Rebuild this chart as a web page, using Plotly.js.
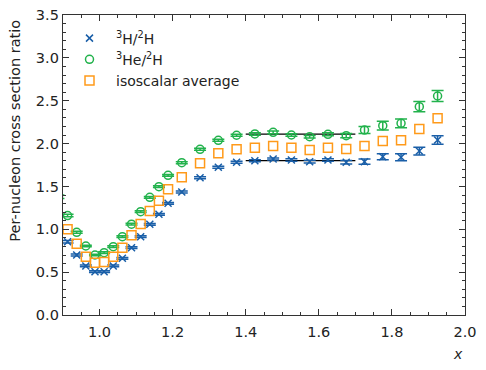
<!DOCTYPE html>
<html>
<head>
<meta charset="utf-8">
<script src="https://cdn.plot.ly/plotly-3.0.1.min.js"></script>
<style>
  body { margin: 0; background: #fff; }
  #plot { width: 486px; height: 370px; }
</style>
</head>
<body>
<div id="plot"></div>
<script>
// bin centres in x
const xBins = [0.9125, 0.9375, 0.9625, 0.9875, 1.0125, 1.0375, 1.0625, 1.0875, 1.1125, 1.1375,
  1.1625, 1.1875, 1.225, 1.275, 1.325, 1.375, 1.425, 1.475, 1.525, 1.575,
  1.625, 1.675, 1.725, 1.775, 1.825, 1.875, 1.925];

// 3H/2H
const h3Ratio = [0.855, 0.70, 0.572, 0.505, 0.505, 0.572, 0.661, 0.785, 0.914, 1.058,
  1.175, 1.303, 1.435, 1.602, 1.723, 1.782, 1.80, 1.82, 1.808, 1.789,
  1.808, 1.782, 1.789, 1.847, 1.84, 1.913, 2.042];
const h3Err = [0.015, 0.012, 0.01, 0.01, 0.01, 0.01, 0.01, 0.01, 0.01, 0.01,
  0.01, 0.01, 0.012, 0.012, 0.012, 0.012, 0.012, 0.012, 0.015, 0.015,
  0.015, 0.02, 0.03, 0.035, 0.04, 0.045, 0.05];

// 3He/2H (first point sits just left of the frame)
const he3X = [0.8875].concat(xBins);
const he3Ratio = [1.38, 1.16, 0.965, 0.805, 0.70, 0.727, 0.797, 0.914, 1.06, 1.205, 1.373,
  1.497, 1.63, 1.777, 1.933, 2.038, 2.097, 2.112, 2.131, 2.10, 2.08,
  2.108, 2.092, 2.158, 2.209, 2.236, 2.43, 2.555];
const he3Err = [0.02, 0.015, 0.012, 0.01, 0.01, 0.01, 0.01, 0.01, 0.01, 0.01, 0.01,
  0.01, 0.01, 0.012, 0.012, 0.012, 0.012, 0.015, 0.015, 0.015, 0.015,
  0.018, 0.025, 0.04, 0.05, 0.05, 0.06, 0.065];

// isoscalar average
const isoAvg = [1.0, 0.832, 0.68, 0.61, 0.618, 0.68, 0.785, 0.93, 1.062, 1.213,
  1.334, 1.466, 1.607, 1.77, 1.887, 1.933, 1.952, 1.972, 1.952, 1.925,
  1.952, 1.937, 1.972, 2.03, 2.038, 2.17, 2.295];

// plateau lines
const plateauX = [1.4, 1.7];
const plateauHe3 = [2.11, 2.11];
const plateauH3 = [1.80, 1.80];

const blue = '#1a5fa8', green = '#22b24c', orange = '#ff9a1a';

const traces = [
  {
    x: plateauX, y: plateauHe3, mode: 'lines', showlegend: false,
    line: { color: 'black', width: 1.3 }, hoverinfo: 'skip'
  },
  {
    x: plateauX, y: plateauH3, mode: 'lines', showlegend: false,
    line: { color: 'black', width: 1.3 }, hoverinfo: 'skip'
  },
  {
    x: xBins, y: h3Ratio, name: '<sup>3</sup>H/<sup>2</sup>H', mode: 'markers',
    marker: { symbol: 'x-thin', size: 7, color: blue, line: { color: blue, width: 1.5 } },
    error_y: { type: 'data', array: h3Err, visible: true, color: blue, thickness: 1.5, width: 6 }
  },
  {
    x: he3X, y: he3Ratio, name: '<sup>3</sup>He/<sup>2</sup>H', mode: 'markers',
    marker: { symbol: 'circle-open', size: 8, color: green, line: { color: green, width: 1.5 } },
    error_y: { type: 'data', array: he3Err, visible: true, color: green, thickness: 1.5, width: 6 }
  },
  {
    x: xBins, y: isoAvg, name: 'isoscalar average', mode: 'markers',
    marker: { symbol: 'square-open', size: 9, color: orange, line: { color: orange, width: 1.5 } }
  }
];

const axisStyle = {
  showline: true, linecolor: '#333', linewidth: 1.2, mirror: 'ticks',
  ticks: 'inside', ticklen: 6, tickwidth: 1, tickcolor: '#333',
  showgrid: false, zeroline: false,
  tickfont: { size: 14.5, color: '#222' }
};

const layout = {
  width: 486, height: 370,
  margin: { l: 63, r: 21, t: 15, b: 55 },
  font: { family: 'DejaVu Sans, sans-serif', color: '#222' },
  paper_bgcolor: 'white', plot_bgcolor: 'white',
  showlegend: true,
  legend: {
    x: 0.0, y: 0.975, xanchor: 'left', yanchor: 'top', itemwidth: 43,
    bgcolor: 'rgba(255,255,255,0)', font: { size: 14 }
  },
  xaxis: Object.assign({}, axisStyle, {
    range: [0.9, 2.0], tickvals: [1.0, 1.2, 1.4, 1.6, 1.8, 2.0], tickformat: '.1f',
    ticklabelstandoff: 3,
    minor: { dtick: 0.05, tick0: 0, ticks: 'inside', ticklen: 3, tickcolor: '#333' }
  }),
  yaxis: Object.assign({}, axisStyle, {
    range: [0, 3.5], dtick: 0.5, tick0: 0, tickformat: '.1f',
    minor: { dtick: 0.1, tick0: 0, ticks: 'inside', ticklen: 3, tickcolor: '#333' }
  }),
  annotations: [
    {
      text: '<i>x</i>', xref: 'paper', yref: 'paper', x: 1.0, y: 0, xanchor: 'right', yanchor: 'top',
      yshift: -29, showarrow: false, font: { size: 14 }
    },
    {
      text: 'Per-nucleon cross section ratio', xref: 'paper', yref: 'paper',
      x: -0.118, y: 0.613, xanchor: 'center', yanchor: 'middle', textangle: -90,
      showarrow: false, font: { size: 14.5 }
    }
  ]
};

Plotly.newPlot('plot', traces, layout, { displayModeBar: false, staticPlot: true });
</script>
</body>
</html>
